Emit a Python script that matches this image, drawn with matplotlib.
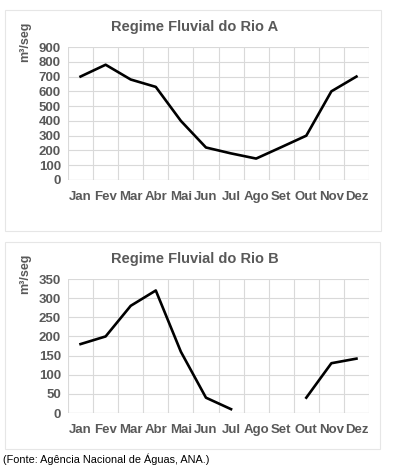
import numpy as np
import matplotlib.pyplot as plt
from matplotlib.patches import Rectangle

plt.rcParams['font.family'] = ['Liberation Sans', 'DejaVu Sans']

# Dados
meses = ['Jan', 'Fev', 'Mar', 'Abr', 'Mai', 'Jun', 'Jul', 'Ago', 'Set', 'Out', 'Nov', 'Dez']
rio_a = [700, 780, 680, 630, 400, 220, 180, 145, 222, 300, 600, 700]
rio_b = [180, 200, 280, 320, 160, 40, 10, np.nan, np.nan, 40, 130, 142]

W, H = 393, 468
fig = plt.figure(figsize=(W / 100, H / 100), dpi=100)

cinza_txt = '#595959'
cinza_grade = '#d9d9d9'


def painel(box, ax_px, titulo, titulo_y, valores, ymax, passo, eixo_y):
    # moldura do painel (coordenadas em pixels, origem no topo)
    x0, y0, x1, y1 = box
    fig.patches.append(Rectangle((x0 / W, 1 - y1 / H), (x1 - x0) / W, (y1 - y0) / H,
                                 transform=fig.transFigure, fill=False,
                                 edgecolor='#e6e6e6', linewidth=0.8))
    l, t, r, b = ax_px
    ax = fig.add_axes([l / W, 1 - b / H, (r - l) / W, (b - t) / H])
    x = np.arange(len(meses))
    ax.plot(x, valores, color='black', linewidth=1.9, solid_joinstyle='round')
    ax.set_xlim(-0.5, len(meses) - 0.5)
    ax.set_ylim(0, ymax)
    ax.set_yticks(np.arange(0, ymax + 1, passo))
    ax.set_xticks(x)
    ax.set_xticklabels(meses)
    for v in np.arange(-0.5, len(meses), 1):
        ax.axvline(v, color=cinza_grade, linewidth=0.8, zorder=0)
    ax.yaxis.grid(True, color=cinza_grade, linewidth=0.8, zorder=0)
    ax.set_axisbelow(True)
    for s in ax.spines.values():
        s.set_visible(False)
    ax.axhline(0, color='#bfbfbf', linewidth=0.8, zorder=1)
    ax.tick_params(length=0, labelsize=9.5, colors=cinza_txt)
    ax.tick_params(axis='x', pad=8)
    ax.tick_params(axis='y', pad=5)
    for lbl in ax.get_xticklabels() + ax.get_yticklabels():
        lbl.set_fontweight('bold')
    fig.text(195 / W, 1 - titulo_y / H, titulo, ha='center', va='center',
             fontsize=10.5, fontweight='bold', color=cinza_txt)
    fig.text(25 / W, 1 - eixo_y / H, 'm³/seg', rotation=90, ha='center', va='top',
             fontsize=9, fontweight='bold', color=cinza_txt)
    return ax


painel((5, 10, 381, 231), (68, 47, 369, 180), 'Regime Fluvial do Rio A', 27, rio_a, 900, 100, 22)
painel((5, 242, 380, 449), (68, 279, 369, 413), 'Regime Fluvial do Rio B', 259, rio_b, 350, 50, 254)

fig.text(3 / W, 1 - 459 / H, '(Fonte: Agência Nacional de Águas, ANA.)',
         ha='left', va='center', fontsize=7.8, color='black')

fig.savefig('out.png', dpi=100)
